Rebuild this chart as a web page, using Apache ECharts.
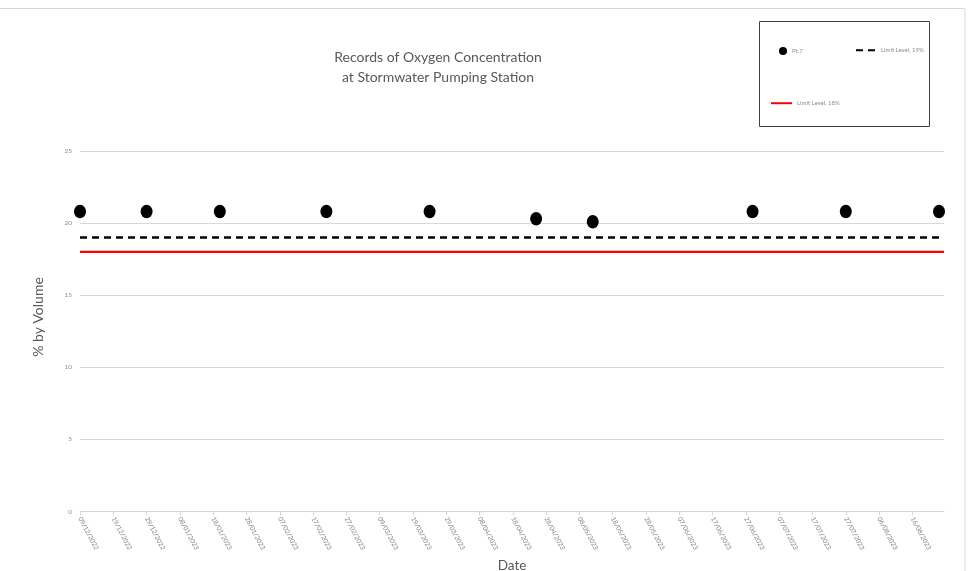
<!DOCTYPE html>
<html>
<head>
<meta charset="utf-8">
<script src="https://cdn.jsdelivr.net/npm/echarts@6/dist/echarts.min.js"></script>
<style>html,body{margin:0;padding:0;background:#fff}#c{width:977px;height:571px}</style>
</head>
<body>
<div id="c"></div>
<script>
// ---- data ----
const titleLines = ['Records of Oxygen Concentration', 'at Stormwater Pumping Station'];
const pointDates = ['2022-12-09','2022-12-29','2023-01-20','2023-02-21','2023-03-24','2023-04-25','2023-05-12','2023-06-29','2023-07-27','2023-08-24'];
const pointValues = [20.8, 20.8, 20.8, 20.8, 20.8, 20.3, 20.1, 20.8, 20.8, 20.8];
const seriesNames = ['Pt.7', 'Limit Level, 19%', 'Limit Level, 18%'];
const limit19 = 19;
const limit18 = 18;
const axisStartDate = '2022-12-09';
const axisEndDate = '2023-08-25';
const tickDays = 10;
const yMin = 0, yMax = 25, yStep = 5;
const xAxisName = 'Date';
const yAxisName = '% by Volume';

const DAY = 86400000;
const ts = s => Date.parse(s + 'T00:00:00Z');
const xMin = ts(axisStartDate);
const xMax = ts(axisEndDate) + DAY / 2;
const pad = n => (n < 10 ? '0' : '') + n;
const fmt = v => { const d = new Date(v); return pad(d.getUTCDate()) + '/' + pad(d.getUTCMonth() + 1) + '/' + d.getUTCFullYear(); };

const font = 'Lato, "Open Sans", sans-serif';
const chart = echarts.init(document.getElementById('c'), null, { renderer: 'canvas' });
chart.setOption({
  animation: false,
  backgroundColor: '#fff',
  textStyle: { fontFamily: font },
  title: {
    text: titleLines.join('\n'),
    left: 433, top: 42, textAlign: 'center',
    textStyle: { fontFamily: font, fontSize: 14, fontWeight: 'normal', color: '#595959', lineHeight: 20 }
  },
  legend: [
    { data: [seriesNames[0]], left: 774, top: 42, itemWidth: 8, itemHeight: 8, itemGap: 4,
      textStyle: { fontSize: 6, color: '#8c8c8c', fontFamily: font } },
    { data: [seriesNames[1]], left: 850, top: 42, itemWidth: 20, itemHeight: 8, itemStyle: { opacity: 0 },
      textStyle: { fontSize: 6, color: '#8c8c8c', fontFamily: font } },
    { data: [seriesNames[2]], left: 765, top: 95, itemWidth: 21, itemHeight: 8, itemStyle: { opacity: 0 },
      textStyle: { fontSize: 6, color: '#8c8c8c', fontFamily: font } }
  ],
  graphic: [
    { type: 'rect', shape: { x: 759.5, y: 21.5, width: 170, height: 105 }, style: { fill: 'none', stroke: '#404040', lineWidth: 1 }, z: 100 },
    { type: 'rect', shape: { x: -1, y: 8.5, width: 966, height: 570 }, style: { fill: 'none', stroke: '#d9d9d9', lineWidth: 1 }, z: -1 },
    { type: 'text', x: 38, y: 317, rotation: Math.PI / 2,
      style: { text: yAxisName, fill: '#595959', font: '14px ' + font, align: 'center', verticalAlign: 'middle' } }
  ],
  grid: { left: 80, right: 33, top: 151, bottom: 59.5, containLabel: false, outerBoundsMode: 'none' },
  xAxis: {
    type: 'value', min: xMin, max: xMax, interval: tickDays * DAY,
    name: xAxisName, nameLocation: 'middle', nameGap: 45,
    nameTextStyle: { fontSize: 13.5, color: '#595959', fontFamily: font },
    splitLine: { show: false },
    axisLine: { show: true, lineStyle: { color: '#d9d9d9', width: 1 } },
    axisTick: { show: true, length: 4, lineStyle: { color: '#d9d9d9' } },
    axisLabel: {
      rotate: -62, fontSize: 6.5, color: '#7f7f7f', margin: 6, showMaxLabel: false,
      formatter: v => (Math.round((v - xMin) / DAY) % tickDays === 0 ? fmt(v) : '')
    }
  },
  yAxis: {
    type: 'value', min: yMin, max: yMax, interval: yStep,
    axisLine: { show: false }, axisTick: { show: false },
    splitLine: { lineStyle: { color: '#d9d9d9', width: 1 } },
    axisLabel: { fontSize: 6.5, color: '#8c8c8c', margin: 8 }
  },
  series: [
    { name: seriesNames[0], type: 'scatter', symbol: 'circle', symbolSize: [12, 13.5],
      itemStyle: { color: '#000', opacity: 1 },
      data: pointDates.map((d, i) => [ts(d), pointValues[i]]), z: 5 },
    { name: seriesNames[1], type: 'line', symbol: 'none', color: '#000',
      lineStyle: { color: '#000', width: 2.5, type: [7, 5] },
      data: [[xMin, limit19], [xMax, limit19]] },
    { name: seriesNames[2], type: 'line', symbol: 'none', color: '#ff0000',
      lineStyle: { color: '#ff0000', width: 2.2 },
      data: [[xMin, limit18], [xMax, limit18]] }
  ]
});
</script>
</body>
</html>
